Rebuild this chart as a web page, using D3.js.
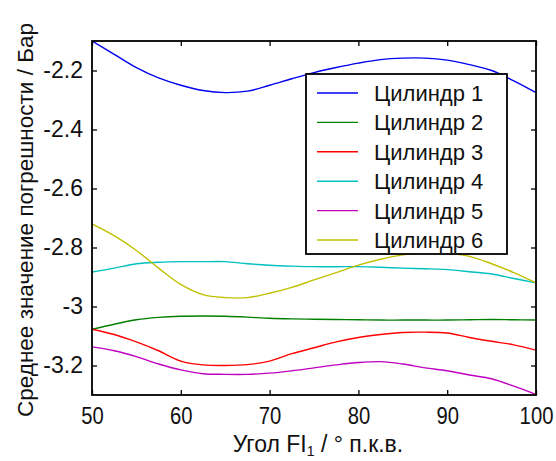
<!DOCTYPE html>
<html>
<head>
<meta charset="utf-8">
<script src="https://cdn.jsdelivr.net/npm/d3@7/dist/d3.min.js"></script>
<style>
body { margin: 0; background: #fff; }
text { font-family: "Liberation Sans", Arial, sans-serif; fill: #111; }
</style>
</head>
<body>
<div id="chart"></div>
<script>
// angle, deg
var angles = [50, 52.5, 55, 57.5, 60, 62.5, 65, 67.5, 70, 72.5, 75, 77.5, 80, 82.5, 85, 87.5, 90, 92.5, 95, 97.5, 100];

// mean error, bar
var cyl1 = [-2.10, -2.145, -2.19, -2.225, -2.25, -2.268, -2.275, -2.27, -2.25, -2.228, -2.207, -2.19, -2.175, -2.163, -2.158, -2.158, -2.165, -2.18, -2.20, -2.235, -2.275];
var cyl2 = [-3.077, -3.06, -3.045, -3.037, -3.033, -3.032, -3.033, -3.036, -3.04, -3.042, -3.043, -3.044, -3.045, -3.046, -3.046, -3.046, -3.046, -3.045, -3.044, -3.045, -3.046];
var cyl3 = [-3.077, -3.095, -3.12, -3.15, -3.185, -3.198, -3.20, -3.197, -3.185, -3.16, -3.14, -3.12, -3.105, -3.095, -3.088, -3.087, -3.09, -3.105, -3.118, -3.13, -3.148];
var cyl4 = [-2.883, -2.87, -2.855, -2.85, -2.848, -2.848, -2.848, -2.855, -2.86, -2.863, -2.865, -2.865, -2.865, -2.867, -2.87, -2.872, -2.875, -2.882, -2.89, -2.905, -2.92];
var cyl5 = [-3.137, -3.15, -3.17, -3.195, -3.215, -3.228, -3.23, -3.23, -3.226, -3.218, -3.208, -3.198, -3.19, -3.187, -3.195, -3.208, -3.218, -3.232, -3.245, -3.27, -3.298];
var cyl6 = [-2.72, -2.76, -2.81, -2.87, -2.925, -2.96, -2.97, -2.97, -2.955, -2.935, -2.91, -2.885, -2.86, -2.84, -2.825, -2.82, -2.82, -2.83, -2.855, -2.885, -2.92];

var names = ["Цилиндр 1", "Цилиндр 2", "Цилиндр 3", "Цилиндр 4", "Цилиндр 5", "Цилиндр 6"];
var colors = ["#0000f0", "#008000", "#ff0000", "#00c0c0", "#c000c0", "#c0c000"];
var xTicks = [50, 60, 70, 80, 90, 100];
var yTicks = [-3.2, -3, -2.8, -2.6, -2.4, -2.2];

var series = [cyl1, cyl2, cyl3, cyl4, cyl5, cyl6].map(function(v, i) {
  return { name: names[i], color: colors[i], values: v };
});

var width = 556, height = 461;
var margin = {left: 92, right: 20, top: 41, bottom: 66};

var svg = d3.select('#chart')
  .append('svg')
  .attr("width", width)
  .attr("height", height);

var x = d3.scaleLinear()
  .domain([50, 100])
  .range([margin.left, width - margin.right]);
var y = d3.scaleLinear()
  .domain([-3.3, -2.1])
  .range([height - margin.bottom, margin.top]);

var line = d3.line()
  .x(function(d, i) { return x(angles[i]); })
  .y(function(d) { return y(d); })
  .curve(d3.curveCatmullRom);

svg.append("clipPath").attr("id", "clip")
  .append("rect")
  .attr("x", x(50)).attr("y", y(-2.1))
  .attr("width", x(100) - x(50)).attr("height", y(-3.3) - y(-2.1));

svg.append("g")
  .attr("clip-path", "url(#clip)")
  .attr("fill", "none")
  .attr("stroke-width", 1.4)
  .selectAll("path")
  .data(series)
  .enter()
  .append("path")
  .attr("stroke", function(d) { return d.color; })
  .attr("d", function(d) { return line(d.values); });

// axes, ticks pointing inward on all four sides
var gBottom = svg.append("g")
  .attr("transform", "translate(0," + y(-3.3) + ")")
  .call(d3.axisBottom(x).tickValues(xTicks).tickSize(-5).tickPadding(13).tickFormat(function(d) { return d; }));
var gLeft = svg.append("g")
  .attr("transform", "translate(" + x(50) + ",0)")
  .call(d3.axisLeft(y).tickValues(yTicks).tickSize(-5).tickPadding(9).tickFormat(function(d) { return String(+d.toFixed(1)); }));
var gTop = svg.append("g")
  .attr("transform", "translate(0," + y(-2.1) + ")")
  .call(d3.axisTop(x).tickValues(xTicks).tickSize(-5).tickFormat(""));
var gRight = svg.append("g")
  .attr("transform", "translate(" + x(100) + ",0)")
  .call(d3.axisRight(y).tickValues(yTicks).tickSize(-5).tickFormat(""));

[gBottom, gLeft, gTop, gRight].forEach(function(g) {
  g.select(".domain").remove();
  g.selectAll(".tick line").attr("stroke", "#000").attr("stroke-width", 1.3);
  g.selectAll("text").style("font-size", "23px").attr("fill", "#111");
});
// the digits in the original are a bit narrow
gBottom.selectAll("text").attr("transform", "scale(0.88,1)");

svg.append("rect")
  .attr("x", x(50)).attr("y", y(-2.1))
  .attr("width", x(100) - x(50)).attr("height", y(-3.3) - y(-2.1))
  .attr("fill", "none")
  .attr("stroke", "#000")
  .attr("stroke-width", 1.8);

// axis titles
var xt = svg.append("text")
  .attr("x", 318).attr("y", 452)
  .attr("text-anchor", "middle")
  .style("font-size", "23px");
xt.append("tspan").text("Угол FI");
xt.append("tspan").attr("dy", 4).style("font-size", "14px").text("1");
xt.append("tspan").attr("dy", -4).text(" / ° п.к.в.");

svg.append("text")
  .attr("transform", "translate(33,220) rotate(-90)")
  .attr("text-anchor", "middle")
  .style("font-size", "22.5px")
  .text("Среднее значение погрешности / Бар");

// legend
var legend = svg.append("g");
legend.append("rect")
  .attr("x", 306).attr("y", 74)
  .attr("width", 201).attr("height", 180)
  .attr("fill", "#fff")
  .attr("stroke", "#000")
  .attr("stroke-width", 1.8);

var item = legend.selectAll(".item")
  .data(series)
  .enter()
  .append("g")
  .attr("class", "item")
  .attr("transform", function(d, i) { return "translate(0," + (93 + i * 29.4) + ")"; });
item.append("line")
  .attr("x1", 317).attr("x2", 358)
  .attr("stroke", function(d) { return d.color; })
  .attr("stroke-width", 1.4);
item.append("text")
  .attr("x", 374).attr("y", 8)
  .style("font-size", "22px")
  .text(function(d) { return d.name; });
</script>
</body>
</html>
